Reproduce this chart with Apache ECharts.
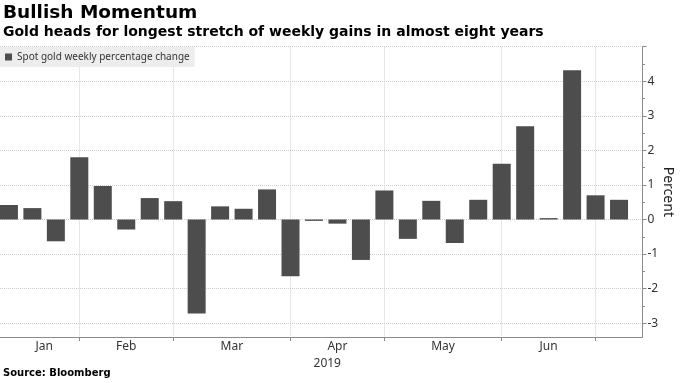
<!DOCTYPE html>
<html><head><meta charset="utf-8">
<script src="https://cdn.jsdelivr.net/npm/echarts@6/dist/echarts.min.js"></script>
<style>html,body{margin:0;padding:0;background:#fff}#c{width:680px;height:383px}</style>
</head><body><div id="c"></div>
<script>
// ---- data ----
const weeks = ['2019-01-11','2019-01-18','2019-01-25','2019-02-01','2019-02-08','2019-02-15','2019-02-22',
  '2019-03-01','2019-03-08','2019-03-15','2019-03-22','2019-03-29','2019-04-05','2019-04-12','2019-04-19',
  '2019-04-26','2019-05-03','2019-05-10','2019-05-17','2019-05-24','2019-05-31','2019-06-07','2019-06-14',
  '2019-06-21','2019-06-28','2019-07-05','2019-07-12'];
const weeklyChange = [0.42, 0.33, -0.63, 1.80, 0.97, -0.29, 0.62, 0.53, -2.72, 0.38, 0.31, 0.87, -1.64, -0.04,
  -0.12, -1.17, 0.84, -0.56, 0.54, -0.68, 0.57, 1.61, 2.70, 0.04, 4.32, 0.70, 0.57];
const monthNames = ['Jan','Feb','Mar','Apr','May','Jun'];
const yearLabel = '2019';
const yLabels = [-3, -2, -1, 0, 1, 2, 3, 4];
const yMajorTicks = [-3, -2, -1, 0, 1, 2, 3, 4, 5];
const yMinorTicks = [-2.5, -1.5, -0.5, 0.5, 1.5, 2.5, 3.5, 4.5];
const seriesName = 'Spot gold weekly percentage change';

// ---- derived ----
const monthStarts = [0];
for (let i = 1; i < weeks.length; i++) {
  if (weeks[i].slice(5, 7) !== weeks[i - 1].slice(5, 7)) monthStarts.push(i);
}
const labelPos = {};
monthNames.forEach((m, k) => { labelPos[(monthStarts[k] + monthStarts[k + 1]) / 2] = m; });
const labelValues = Object.keys(labelPos).map(Number);

const FONT = 'Noto Sans';
const TFONT = 'DejaVu Sans';
const gridBox = {left: 0, right: 37.5, top: 46.7, bottom: 46, containLabel: false, outerBoundsMode: 'none'};
const chart = echarts.init(document.getElementById('c'), null, {renderer: 'canvas'});
chart.setOption({
  animation: false,
  backgroundColor: '#fff',
  title: [
    {text: 'Bullish Momentum', left: 1, top: 2, padding: 2,
     textStyle: {fontFamily: TFONT, fontSize: 18.5, fontWeight: 'bold', color: '#000'}},
    {text: 'Gold heads for longest stretch of weekly gains in almost eight years', left: 1, top: 23, padding: 2,
     textStyle: {fontFamily: TFONT, fontSize: 14, fontWeight: 'bold', color: '#000'}},
    {text: 'Source: Bloomberg', left: 1, top: 366, padding: 2,
     textStyle: {fontFamily: TFONT, fontSize: 10, fontWeight: 'bold', color: '#000'}}
  ],
  legend: {
    data: [seriesName], left: 0, top: 47, icon: 'rect', itemWidth: 7, itemHeight: 7,
    backgroundColor: '#ededed', padding: [5, 5, 5, 5],
    textStyle: {fontFamily: FONT, fontSize: 10, color: '#333'}
  },
  grid: [gridBox, Object.assign({}, gridBox)],
  xAxis: [{
    type: 'value', min: -0.38, max: 27, gridIndex: 0,
    name: yearLabel, nameLocation: 'middle', nameGap: 13,
    nameTextStyle: {fontFamily: FONT, fontSize: 12, color: '#333', padding: [0, 0, 0, 12]},
    axisLine: {show: true, onZero: false, lineStyle: {color: '#8a8a8a', width: 1}},
    axisTick: {show: true, customValues: monthStarts.slice(1), length: 4, lineStyle: {color: '#8a8a8a'}},
    axisLabel: {customValues: labelValues, formatter: v => labelPos[v] || '', margin: 4,
      fontFamily: FONT, fontSize: 12, color: '#333'},
    splitLine: {show: true, lineStyle: {color: '#cfcfcf', type: 'dotted', width: 1}}
  }, {
    type: 'value', min: -0.38, max: 27, gridIndex: 1, show: false,
    axisLine: {onZero: false}
  }],
  yAxis: [{
    type: 'value', position: 'right', min: -3.4, max: 5, gridIndex: 0,
    name: 'Percent', nameLocation: 'middle', nameRotate: -90, nameGap: 18, nameMoveOverlap: false,
    nameTextStyle: {fontFamily: FONT, fontSize: 14, color: '#222'},
    axisLine: {show: true, onZero: false, lineStyle: {color: '#8a8a8a', width: 1}},
    axisTick: {show: true, customValues: yMajorTicks, length: 4, lineStyle: {color: '#8a8a8a'}},
    axisLabel: {customValues: yLabels, margin: 5, fontFamily: FONT, fontSize: 12, color: '#333'},
    splitLine: {show: true, lineStyle: {color: '#cfcfcf', type: 'dotted', width: 1}}
  }, {
    type: 'value', position: 'right', min: -3.4, max: 5, gridIndex: 1,
    axisLine: {show: false, onZero: false},
    axisTick: {show: true, customValues: yMinorTicks, length: 2.5, lineStyle: {color: '#8a8a8a'}},
    axisLabel: {show: false},
    splitLine: {show: false}
  }],
  series: [{
    name: seriesName, type: 'bar', barWidth: 18, xAxisIndex: 0, yAxisIndex: 0,
    itemStyle: {color: '#4d4d4d'},
    data: weeklyChange.map((v, i) => [i, v])
  }]
});
</script></body></html>
